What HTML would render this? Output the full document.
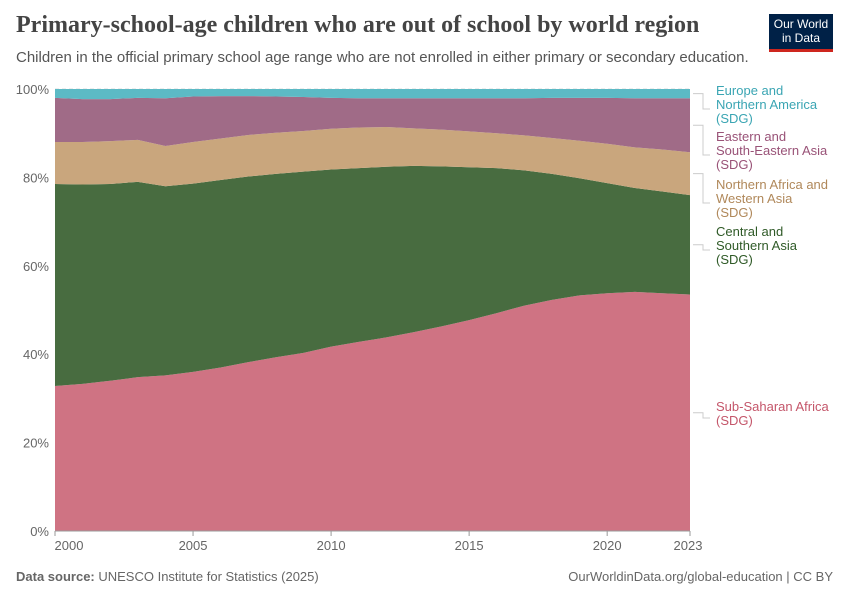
<!DOCTYPE html>
<html><head><meta charset="utf-8">
<style>
body{margin:0;background:#fff;font-family:"Liberation Sans",sans-serif;}
#wrap{position:relative;width:850px;height:600px;overflow:hidden;}
.t{position:absolute;white-space:nowrap;}
</style></head>
<body>
<div id="wrap">
<div class="t" style="left:16px;top:12px;font-family:'Liberation Serif',serif;font-size:24px;color:#444;font-weight:bold;">Primary-school-age children who are out of school by world region</div>
<div class="t" style="left:16px;top:49px;font-size:15px;color:#555;">Children in the official primary school age range who are not enrolled in either primary or secondary education.</div>
<div style="position:absolute;left:769px;top:14px;width:64px;height:38px;background:#002147;border-bottom:3px solid #ce261e;color:#fff;font-size:12px;line-height:14px;text-align:center;padding-top:3px;box-sizing:border-box;">Our World<br>in Data</div>
<svg id="chart" width="850" height="600" style="position:absolute;left:0;top:0;font-family:'Liberation Sans',sans-serif;"></svg>
<div class="t" style="left:16px;top:569px;font-size:13px;color:#666;"><b>Data source:</b> UNESCO Institute for Statistics (2025)</div>
<div class="t" style="right:17px;top:569px;font-size:13px;color:#666;">OurWorldinData.org/global-education | CC BY</div>
</div>
<script>
const years=[2000,2001,2002,2003,2004,2005,2006,2007,2008,2009,2010,2011,2012,2013,2014,2015,2016,2017,2018,2019,2020,2021,2022,2023];
const ssa=[32.8,33.3,34.0,34.8,35.2,36.0,37.0,38.2,39.3,40.3,41.7,42.8,43.8,45.0,46.3,47.7,49.3,51.0,52.3,53.3,53.8,54.1,53.8,53.5];
const csa=[45.7,45.1,44.5,44.2,42.8,42.6,42.4,42.0,41.5,41.0,40.1,39.3,38.6,37.6,36.2,34.6,32.8,30.6,28.5,26.5,24.9,23.5,23.0,22.5];
const nawa=[9.5,9.6,9.7,9.5,9.1,9.4,9.4,9.4,9.3,9.2,9.2,9.2,9.0,8.5,8.3,8.1,7.9,7.9,8.1,8.5,8.9,9.2,9.5,9.7];
const esea=[10.0,9.7,9.5,9.5,10.8,10.3,9.6,8.8,8.2,7.7,7.0,6.6,6.5,6.8,7.1,7.5,7.9,8.4,9.1,9.7,10.4,11.1,11.6,12.2];
const ena=[2.0,2.3,2.3,2.0,2.1,1.7,1.6,1.6,1.7,1.8,2.0,2.1,2.1,2.1,2.1,2.1,2.1,2.1,2.0,2.0,2.0,2.1,2.1,2.1];
const yTicks=[0,20,40,60,80,100];
const xTicks=[2000,2005,2010,2015,2020,2023];

const NS="http://www.w3.org/2000/svg";
const svg=document.getElementById('chart');
const x0=55,x1=690,y0=531,y1=89;
const xs=v=>x0+(v-2000)/(2023-2000)*(x1-x0);
const ys=v=>y0-v/100*(y0-y1);
function mk(t,a){const e=document.createElementNS(NS,t);for(const k in a)e.setAttribute(k,a[k]);svg.appendChild(e);return e;}

yTicks.forEach(v=>{
  const l=mk('line',{x1:x0,x2:x1,y1:ys(v),y2:ys(v),stroke:'#ddd','stroke-dasharray':'4,3'});
  
  
  const t=mk('text',{x:49,y:ys(v)+5,'text-anchor':'end','font-size':13,fill:'#666'});
  t.textContent=v+'%';
  
  
});

const series=[
 {vals:ssa,color:'#cf7383',name:'sub-saharan-africa'},
 {vals:csa,color:'#486c40',name:'central-southern-asia'},
 {vals:nawa,color:'#c9a67d',name:'northern-africa-western-asia'},
 {vals:esea,color:'#a06b87',name:'eastern-southeastern-asia'},
 {vals:ena,color:'#5cbac5',name:'europe-northern-america'}
];
const totals=years.map((_,i)=>series.reduce((s,se)=>s+se.vals[i],0));
let base=years.map(()=>0);
series.forEach(se=>{
  const top=base.map((b,i)=>b+se.vals[i]/totals[i]*100);
  let d='M'+years.map((y,i)=>xs(y)+','+ys(top[i])).join('L');
  for(let i=years.length-1;i>=0;i--)d+='L'+xs(years[i])+','+ys(base[i]);
  d+='Z';
  const p=mk('path',{d:d,fill:se.color});
  
  
  se.top=top;se.base=base;
  base=top;
});

mk('line',{x1:x0,x2:x1,y1:y0,y2:y0,stroke:'#999'});
xTicks.forEach(v=>{
  mk('line',{x1:xs(v),x2:xs(v),y1:y0,y2:y0+5,stroke:'#999'});
  const t=mk('text',{x:v===2000?xs(v)+14:(v===2023?xs(v)-2:xs(v)),y:550,'text-anchor':'middle','font-size':13,fill:'#666'});
  t.textContent=v;
  
  
});

const labels=[
 {lines:['Europe and','Northern America','(SDG)'],color:'#3aa5b3',y:95,si:4},
 {lines:['Eastern and','South-Eastern Asia','(SDG)'],color:'#995277',y:141,si:3},
 {lines:['Northern Africa and','Western Asia','(SDG)'],color:'#b0885a',y:189,si:2},
 {lines:['Central and','Southern Asia','(SDG)'],color:'#2f5a27',y:236,si:1},
 {lines:['Sub-Saharan Africa','(SDG)'],color:'#c4566a',y:411,si:0}
];
labels.forEach(L=>{
  const se=series[L.si],n=years.length-1;
  const my=ys((se.top[n]+se.base[n])/2);
  const ly=L.y+L.lines.length*7-7;
  const pl=mk('polyline',{points:`${x1+3},${my} ${x1+13},${my} ${x1+13},${ly} ${x1+20},${ly}`,fill:'none',stroke:'#ccc'});
  
  
  const t=mk('text',{x:716,y:L.y,'font-size':13,fill:L.color});
  
  
  L.lines.forEach((s,i)=>{const ts=document.createElementNS(NS,'tspan');ts.setAttribute('x',716);ts.setAttribute('dy',i?14:0);ts.textContent=s;t.appendChild(ts);});
});
</script>
</body></html>
